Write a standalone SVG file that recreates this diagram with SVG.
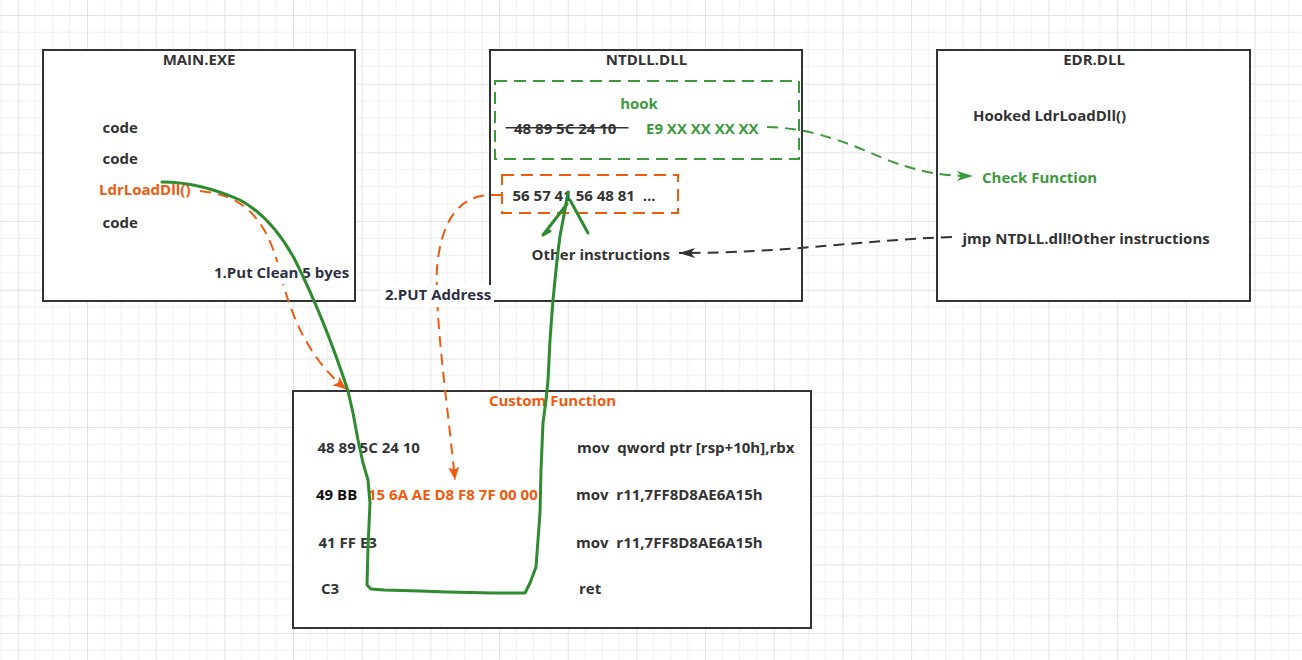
<svg xmlns="http://www.w3.org/2000/svg" width="1302" height="660" viewBox="0 0 1302 660">
<style>
text{font-family:"Open Sans","Noto Sans","Liberation Sans",sans-serif;font-weight:700;font-size:15px;fill:#333;white-space:pre}
.c{text-anchor:middle}
.or{fill:#F05A0F}
.gr{fill:#3C9A3C}
.lbl{fill:#2D3142}
.box{fill:#fff;stroke:#333;stroke-width:2}
.conn{fill:none;stroke-width:2}
</style>
<defs>
<pattern id="grid" x="18.3" y="15" width="68.68" height="68.68" patternUnits="userSpaceOnUse">
<path d="M17.17 0V68.68M34.34 0V68.68M51.51 0V68.68M0 17.17H68.68M0 34.34H68.68M0 51.51H68.68" stroke="#efefef" stroke-width="1" fill="none"/>
<path d="M0.5 0V68.68M0 0.5H68.68" stroke="#e3e3e3" stroke-width="1" fill="none"/>
</pattern>
<marker id="aOr" markerUnits="userSpaceOnUse" markerWidth="16" markerHeight="12" refX="13" refY="5.5" orient="auto"><path d="M0 0L13 5.5L0 11L3 5.5z" fill="#F05A0F"/></marker>
<marker id="aGr" markerUnits="userSpaceOnUse" markerWidth="18" markerHeight="12" refX="16" refY="5" orient="auto"><path d="M0 0L16 5L0 10L4 5z" fill="#3C9A3C"/></marker>
<marker id="aDk" markerUnits="userSpaceOnUse" markerWidth="18" markerHeight="12" refX="16" refY="5" orient="auto"><path d="M0 0L16 5L0 10L4 5z" fill="#333"/></marker>
</defs>
<rect width="1302" height="660" fill="#fff"/>
<rect width="1302" height="660" fill="url(#grid)"/>

<g id="main-exe">
<rect class="box" x="43" y="50" width="312" height="251"/>
<text class="c" x="199" y="65">MAIN.EXE</text>
<text x="102.5" y="133">code</text>
<text x="102.5" y="163.5">code</text>
<text class="or" x="99" y="195">LdrLoadDll()</text>
<text x="102.5" y="227.5">code</text>
</g>

<g id="ntdll">
<rect class="box" x="490" y="50" width="312" height="251"/>
<text class="c" x="646.5" y="65">NTDLL.DLL</text>
<rect x="495" y="81" width="304" height="78" fill="none" stroke="#3C9A3C" stroke-width="2" stroke-dasharray="12 7"/>
<text class="gr c" x="639" y="108.5">hook</text>
<text x="514" y="133.5">48 89 5C 24 10</text>
<line x1="505.5" y1="127.7" x2="628.5" y2="127.7" stroke="#333" stroke-width="1.6"/>
<text class="gr" x="646" y="133.5">E9 XX XX XX XX</text>
<rect x="502" y="175" width="176" height="38" fill="none" stroke="#F05A0F" stroke-width="2" stroke-dasharray="12 7"/>
<text x="512.5" y="200.5">56 57 41 56 48 81  ...</text>
<text x="531.5" y="259.5">Other instructions</text>
</g>

<g id="edr-dll">
<rect class="box" x="937" y="50" width="313" height="251"/>
<text class="c" x="1094" y="65">EDR.DLL</text>
<text x="973" y="121">Hooked LdrLoadDll()</text>
<text class="gr" x="982" y="182.5">Check Function</text>
<text x="962.5" y="243.5">jmp NTDLL.dll!Other instructions</text>
</g>

<g id="custom-function">
<rect class="box" x="293" y="391" width="518" height="237"/>
<text class="or c" x="552.5" y="406">Custom Function</text>
<text x="317.5" y="453">48 89 5C 24 10</text>
<text x="577" y="453">mov  qword ptr [rsp+10h],rbx</text>
<text x="316" y="499.5" style="fill:#111">49 BB</text>
<text class="or" x="368" y="499.5">15 6A AE D8 F8 7F 00 00</text>
<text x="576" y="499.5">mov  r11,7FF8D8AE6A15h</text>
<text x="318.5" y="547.5">41 FF E3</text>
<text x="576" y="547.5">mov  r11,7FF8D8AE6A15h</text>
<text x="321" y="594">C3</text>
<text x="579" y="594">ret</text>
</g>

<g id="connectors">
<path class="conn" stroke="#F05A0F" stroke-dasharray="11 7" marker-end="url(#aOr)" d="M200 191C245 195 266 220 279 268C291 318 310 360 346 389"/>
<path class="conn" stroke="#F05A0F" stroke-dasharray="11 7" marker-end="url(#aOr)" d="M502 195L490 195C458 196 441 222 437 268C435 320 447 400 455 480"/>
<path class="conn" stroke="#3C9A3C" stroke-dasharray="11 7" marker-end="url(#aGr)" d="M767 127C830 128 880 160 905 166C925 172 940 176 973 176"/>
<path class="conn" stroke="#333" stroke-dasharray="11 7" marker-end="url(#aDk)" d="M952 237C860 240 790 253 679 253"/>
<g id="label-1">
<rect x="212" y="262" width="140" height="22" fill="#fff"/>
<text class="lbl" x="214" y="277.5">1.Put Clean 5 byes</text>
</g>
<g id="label-2">
<rect x="381" y="285" width="113" height="22" fill="#fff"/>
<text class="lbl" x="385" y="300">2.PUT Address</text>
</g>
<path fill="none" stroke="#2E8B30" stroke-width="3" stroke-linecap="round" stroke-linejoin="round" d="M162 182C190 182 215 189 240 200C262 212 280 232 295 260C314 298 333 345 348 391L353 413L358 440L363 463L368 480L370 503L369 525L368 547L367 585L371 589L384 590L420 591L447 592L493 593L525 593L530 583L536 567L538 540L540 513L541 470L543 423L546 400L548 380L550 340L553 300L557 260L560 236L564 215L568 192"/>
<path fill="none" stroke="#2E8B30" stroke-width="3" stroke-linecap="round" stroke-linejoin="round" d="M567 204L543 235L550 231M570 200L588 233"/>
</g>
</svg>
